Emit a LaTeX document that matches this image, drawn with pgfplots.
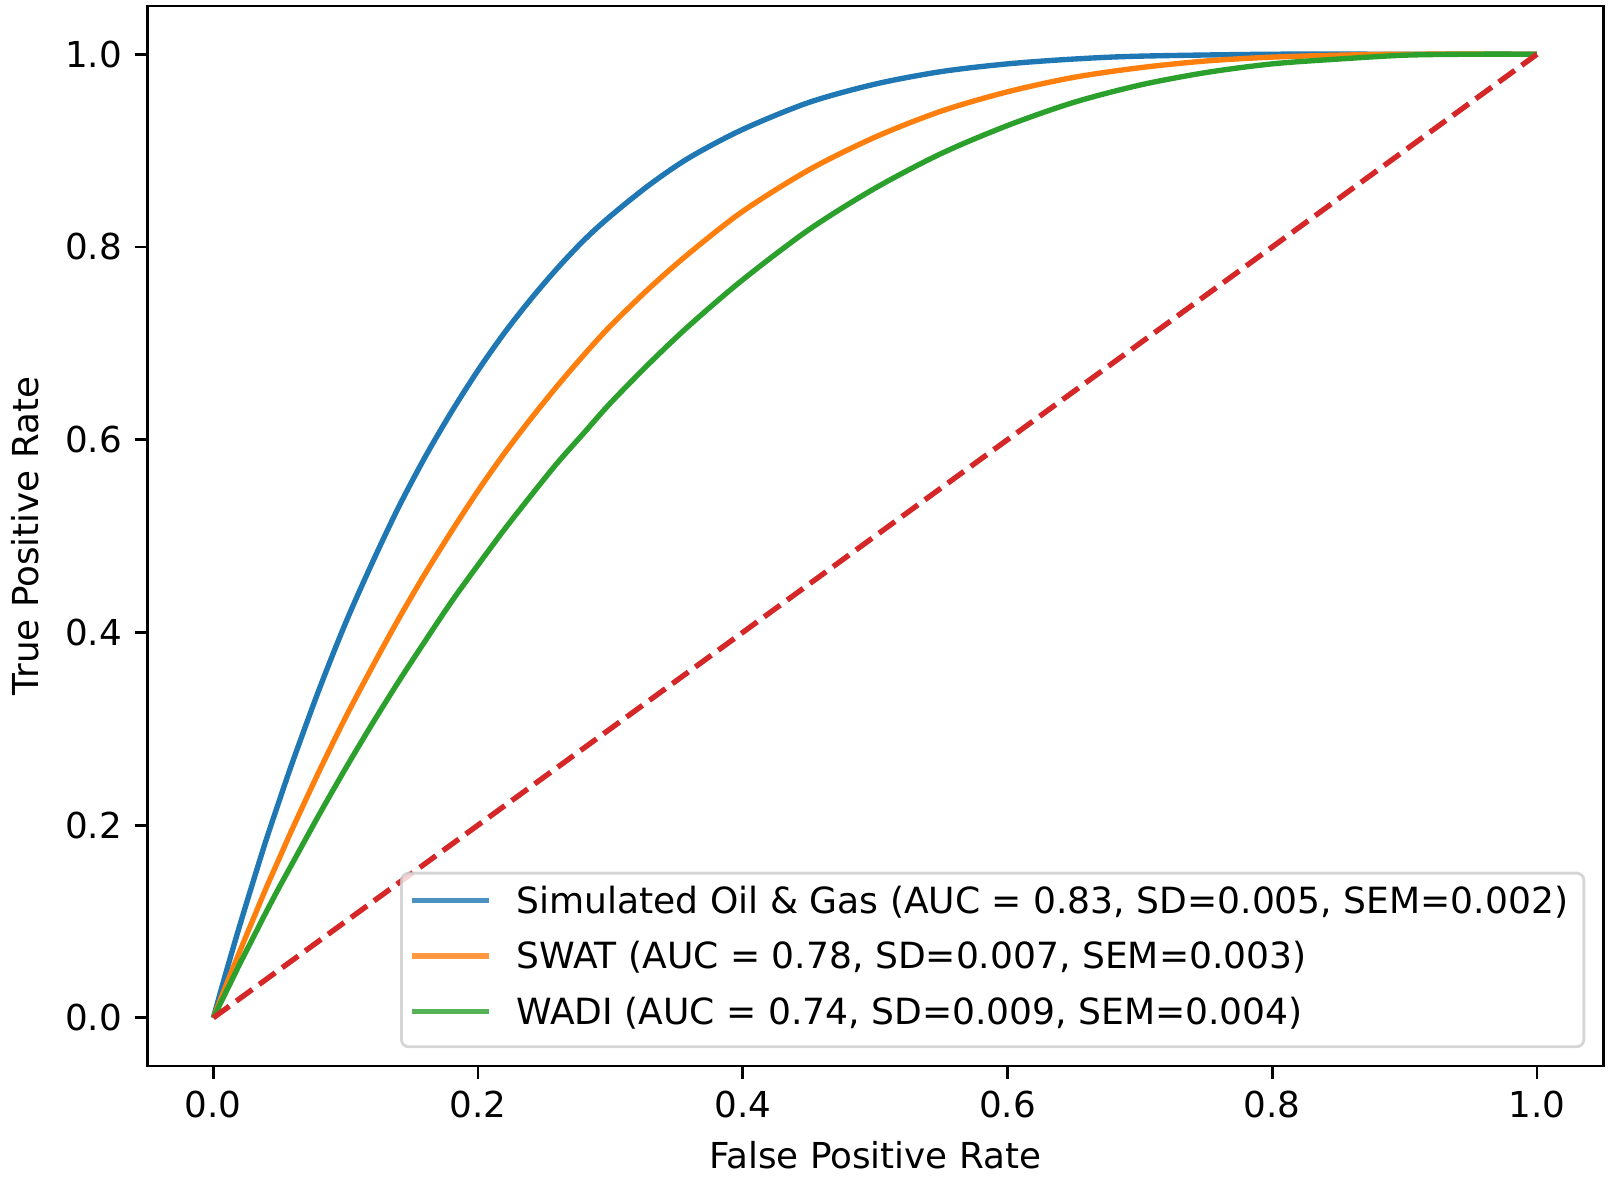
\documentclass[border=0pt]{standalone}
\usepackage{fontspec}
\setmainfont{DejaVu Sans}
\usepackage{pgfplots}
\pgfplotsset{compat=1.18}
\definecolor{tabblue}{HTML}{1F77B4}
\definecolor{taborange}{HTML}{FF7F0E}
\definecolor{tabgreen}{HTML}{2CA02C}
\definecolor{tabred}{HTML}{D62728}
\begin{document}
\begin{tikzpicture}
\begin{axis}[
  scale only axis,
  width=407.7pt, height=296.8pt,
  xmin=-0.05, xmax=1.05, ymin=-0.05, ymax=1.05,
  xtick={0,0.2,0.4,0.6,0.8,1.0},
  xticklabels={0.0,0.2,0.4,0.6,0.8,1.0},
  ytick={0,0.2,0.4,0.6,0.8,1.0},
  yticklabels={0.0,0.2,0.4,0.6,0.8,1.0},
  tick pos=left,
  tick align=outside,
  major tick length=3.5pt,
  every tick/.style={black, line width=0.8pt},
  axis line style={line width=0.8pt},
  font=\fontsize{10}{12}\selectfont,
  tick label style={font=\fontsize{10}{12}\selectfont},
  xlabel={False Positive Rate},
  ylabel={True Positive Rate},
  xlabel style={at={(axis description cs:0.5,0)}, anchor=base, yshift=-28.6pt},
  ylabel style={at={([xshift=-30.5pt]axis description cs:0,0.5)}, anchor=base},
  legend style={
    at={(rel axis cs:1,0)}, anchor=south east, xshift=-5pt, yshift=5pt,
    draw=black!20, line width=0.8pt, rounded corners=2pt,
    fill=white, fill opacity=0.8, text opacity=1, draw opacity=0.8,
    inner xsep=2.9pt, inner ysep=3.8pt, row sep=5.5pt, column sep=6.3pt,
    nodes={inner ysep=0pt, inner xsep=1.5pt, text height=7.5pt, text depth=2.5pt},
    font=\fontsize{10.1}{12}\selectfont,
  },
  legend cell align=left,
  legend image code/.code={\draw[#1, line cap=rect] (0pt,1.15pt) -- (20pt,1.15pt);},
]
\addplot[tabblue, line width=1.5pt, line join=round, smooth] coordinates {
(0,0) (0.01,0.049) (0.02,0.096) (0.03,0.141) (0.04,0.185) (0.05,0.226) (0.06,0.266) (0.08,0.341) (0.10,0.410) (0.12,0.472) (0.14,0.530) (0.16,0.582) (0.18,0.629) (0.20,0.672) (0.22,0.711) (0.24,0.746) (0.26,0.778) (0.28,0.807) (0.30,0.832) (0.33,0.865) (0.36,0.893) (0.40,0.922) (0.45,0.950) (0.50,0.969) (0.55,0.982) (0.60,0.990) (0.65,0.995) (0.70,0.998) (0.80,1.000) (0.90,1.000) (1.00,1.000)
};
\addlegendentry{Simulated Oil \& Gas (AUC = 0.83, SD=0.005, SEM=0.002)}
\addplot[taborange, line width=1.5pt, line join=round, smooth] coordinates {
(0,0) (0.01,0.035) (0.02,0.069) (0.03,0.102) (0.04,0.135) (0.05,0.166) (0.06,0.197) (0.08,0.256) (0.10,0.312) (0.12,0.364) (0.14,0.414) (0.16,0.461) (0.18,0.505) (0.20,0.547) (0.22,0.586) (0.24,0.622) (0.26,0.656) (0.28,0.688) (0.30,0.718) (0.33,0.758) (0.36,0.794) (0.40,0.837) (0.45,0.880) (0.50,0.914) (0.55,0.941) (0.60,0.961) (0.65,0.976) (0.70,0.986) (0.75,0.993) (0.80,0.997) (0.85,0.999) (0.90,1.000) (1.00,1.000)
};
\addlegendentry{SWAT (AUC = 0.78, SD=0.007, SEM=0.003)}
\addplot[tabgreen, line width=1.5pt, line join=round, smooth] coordinates {
(0,0) (0.01,0.028) (0.02,0.056) (0.03,0.083) (0.04,0.110) (0.05,0.136) (0.06,0.161) (0.08,0.211) (0.10,0.259) (0.12,0.305) (0.14,0.349) (0.16,0.391) (0.18,0.432) (0.20,0.470) (0.22,0.507) (0.24,0.542) (0.26,0.576) (0.28,0.607) (0.30,0.638) (0.33,0.680) (0.36,0.719) (0.40,0.766) (0.45,0.818) (0.50,0.861) (0.55,0.897) (0.60,0.926) (0.65,0.950) (0.70,0.968) (0.75,0.981) (0.80,0.990) (0.85,0.995) (0.90,0.999) (0.95,1.000) (1.00,1.000)
};
\addlegendentry{WADI (AUC = 0.74, SD=0.009, SEM=0.004)}
\addplot[tabred, line width=1.5pt, dash pattern=on 5.55pt off 2.4pt, forget plot] coordinates {(0,0) (1,1)};
\end{axis}
\pgfresetboundingbox
\useasboundingbox ([shift={(-41.2pt,-35.3pt)}]current axis.south west) rectangle ([shift={(3.6pt,1.7pt)}]current axis.north east);
\end{tikzpicture}
\end{document}
